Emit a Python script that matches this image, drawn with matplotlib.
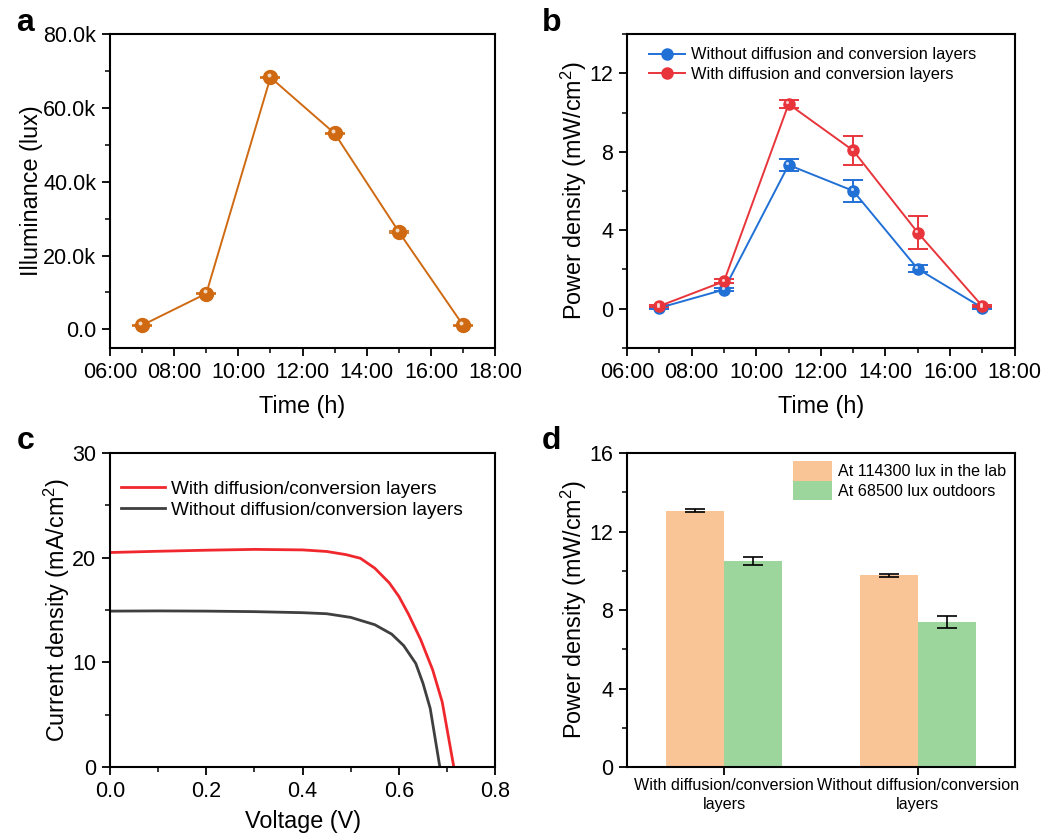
import matplotlib
matplotlib.use("Agg")
import matplotlib.pyplot as plt
from matplotlib.ticker import MultipleLocator, FuncFormatter
from matplotlib.transforms import offset_copy
import numpy as np

plt.rcParams['font.family'] = ['Liberation Sans', 'DejaVu Sans']
plt.rcParams['mathtext.fontset'] = 'custom'
plt.rcParams['mathtext.rm'] = 'Liberation Sans'

# ---- data ----
hours = [7, 9, 11, 13, 15, 17]
time_labels = ['06:00', '08:00', '10:00', '12:00', '14:00', '16:00', '18:00']

lux = [1100, 9700, 68300, 53100, 26400, 1100]
lux_err = [150, 150, 150, 150, 150, 150]

p_without = [0.04, 0.97, 7.33, 6.01, 2.03, 0.04]
p_without_err = [0.04, 0.08, 0.32, 0.55, 0.18, 0.04]
p_with = [0.13, 1.39, 10.44, 8.07, 3.88, 0.13]
p_with_err = [0.04, 0.1, 0.22, 0.74, 0.83, 0.04]

v_with = [0, 0.1, 0.2, 0.3, 0.4, 0.45, 0.49, 0.52, 0.55, 0.58, 0.6, 0.62, 0.645, 0.67, 0.69, 0.714]
j_with = [20.5, 20.62, 20.72, 20.8, 20.75, 20.6, 20.3, 19.95, 19.0, 17.6, 16.3, 14.6, 12.2, 9.3, 6.2, 0]
v_without = [0, 0.1, 0.2, 0.3, 0.4, 0.45, 0.5, 0.55, 0.585, 0.61, 0.635, 0.65, 0.665, 0.685]
j_without = [14.9, 14.92, 14.9, 14.85, 14.75, 14.65, 14.3, 13.6, 12.7, 11.6, 9.9, 8.0, 5.6, 0]

groups = ['With diffusion/conversion\nlayers', 'Without diffusion/conversion\nlayers']
lab_vals = [13.06, 9.77]
lab_err = [0.07, 0.08]
out_vals = [10.5, 7.4]
out_err = [0.22, 0.31]

# ---- figure ----
fig = plt.figure(figsize=(10.47, 8.36), dpi=100)
axa = fig.add_axes([0.105, 0.584, 0.368, 0.375])
axb = fig.add_axes([0.599, 0.584, 0.370, 0.375])
axc = fig.add_axes([0.105, 0.0825, 0.368, 0.3755])
axd = fig.add_axes([0.599, 0.0825, 0.370, 0.3755])

TICK = 15.5
LAB = 16.8


def style(ax):
    for s in ax.spines.values():
        s.set_linewidth(1.5)
    ax.tick_params(which='major', direction='out', length=6, width=1.3, labelsize=TICK, pad=4)
    ax.tick_params(which='minor', direction='out', length=3.5, width=1.1)


def sphere(ax, x, y, color, size):
    ax.plot(x, y, 'o', color=color, ms=size, zorder=4)
    shine = offset_copy(ax.transData, fig=ax.figure, x=-size * 0.12, y=size * 0.15, units='points')
    ax.plot(x, y, 'o', color='white', ms=size * 0.28, alpha=0.75, mew=0, transform=shine, zorder=5)


# panel a
orange = '#CF6A12'
axa.errorbar(hours, lux, yerr=lux_err, color=orange, lw=1.4, capsize=7, capthick=1.2, zorder=3)
sphere(axa, hours, lux, orange, 10)
axa.set_xlim(6, 18)
axa.set_ylim(-5000, 80000)
axa.set_xticks(range(6, 19, 2))
axa.set_xticklabels(time_labels)
axa.xaxis.set_minor_locator(MultipleLocator(1))
axa.set_yticks([0, 20000, 40000, 60000, 80000])
axa.yaxis.set_major_formatter(FuncFormatter(lambda v, p: '0.0' if v == 0 else f'{v/1000:.1f}k'))
axa.yaxis.set_minor_locator(MultipleLocator(10000))
axa.set_xlabel('Time (h)', fontsize=LAB, labelpad=9)
axa.set_ylabel('Illuminance (lux)', fontsize=LAB, labelpad=0)
style(axa)

# panel b
blue = '#2170D6'
red = '#E8353B'
axb.errorbar(hours, p_without, yerr=p_without_err, color=blue, lw=1.4, capsize=7, capthick=1.4, zorder=3)
axb.errorbar(hours, p_with, yerr=p_with_err, color=red, lw=1.4, capsize=7, capthick=1.4, zorder=3)
sphere(axb, hours, p_without, blue, 8)
sphere(axb, hours, p_with, red, 8)
lb1, = axb.plot([], [], '-o', color=blue, lw=1.4, ms=8)
lb2, = axb.plot([], [], '-o', color=red, lw=1.4, ms=8)
axb.legend([lb1, lb2], ['Without diffusion and conversion layers', 'With diffusion and conversion layers'],
           loc='upper left', bbox_to_anchor=(0.03, 0.99), frameon=False, fontsize=11.8,
           handlelength=2.2, handletextpad=0.4, labelspacing=0.3, borderaxespad=0.2)
axb.set_xlim(6, 18)
axb.set_ylim(-2, 14)
axb.set_xticks(range(6, 19, 2))
axb.set_xticklabels(time_labels)
axb.xaxis.set_minor_locator(MultipleLocator(1))
axb.set_yticks([0, 4, 8, 12])
axb.yaxis.set_minor_locator(MultipleLocator(2))
axb.set_xlabel('Time (h)', fontsize=LAB, labelpad=9)
axb.set_ylabel('Power density (mW/cm$^2$)', fontsize=LAB, labelpad=0)
style(axb)

# panel c
axc.plot(v_with, j_with, color='#F0282D', lw=2, label='With diffusion/conversion layers')
axc.plot(v_without, j_without, color='#3F3F3F', lw=2, label='Without diffusion/conversion layers')
axc.set_xlim(0, 0.8)
axc.set_ylim(0, 30)
axc.set_xticks([0, 0.2, 0.4, 0.6, 0.8])
axc.set_xticklabels(['0.0', '0.2', '0.4', '0.6', '0.8'])
axc.xaxis.set_minor_locator(MultipleLocator(0.1))
axc.set_yticks([0, 10, 20, 30])
axc.yaxis.set_minor_locator(MultipleLocator(5))
axc.legend(loc='upper left', bbox_to_anchor=(0.0, 0.95), frameon=False, fontsize=13.7,
           handlelength=2.3, handletextpad=0.3, labelspacing=0.2, borderaxespad=0.2)
axc.set_xlabel('Voltage (V)', fontsize=LAB, labelpad=6)
axc.set_ylabel('Current density (mA/cm$^2$)', fontsize=LAB, labelpad=0)
style(axc)

# panel d
x = np.arange(len(groups))
w = 0.3
axd.bar(x - w / 2, lab_vals, w, color='#F9C596', label='At 114300 lux in the lab')
axd.bar(x + w / 2, out_vals, w, color='#9DD69C', label='At 68500 lux outdoors')
axd.errorbar(x - w / 2, lab_vals, yerr=lab_err, fmt='none', ecolor='black', lw=1.2, capsize=7, capthick=1.2)
axd.errorbar(x + w / 2, out_vals, yerr=out_err, fmt='none', ecolor='black', lw=1.2, capsize=7, capthick=1.2)
axd.set_xlim(-0.5, 1.5)
axd.set_ylim(0, 16)
axd.set_xticks(x)
axd.set_yticks([0, 4, 8, 12, 16])
axd.yaxis.set_minor_locator(MultipleLocator(2))
axd.legend(loc='upper right', frameon=False, fontsize=11.6, handlelength=2.4, handleheight=1.5,
           handletextpad=0.4, labelspacing=0.0, borderaxespad=0.1)
axd.set_ylabel('Power density (mW/cm$^2$)', fontsize=LAB, labelpad=0)
style(axd)
axd.set_xticklabels(groups, fontsize=11.6, linespacing=1.3)
axd.tick_params(axis='x', pad=2)

# panel letters
for lab, fx, fy in [('a', 0.024, 0.972), ('b', 0.527, 0.972), ('c', 0.024, 0.472), ('d', 0.527, 0.472)]:
    fig.text(fx, fy, lab, fontsize=23, fontweight='bold', ha='center', va='center')

fig.savefig('out.png', dpi=100)
